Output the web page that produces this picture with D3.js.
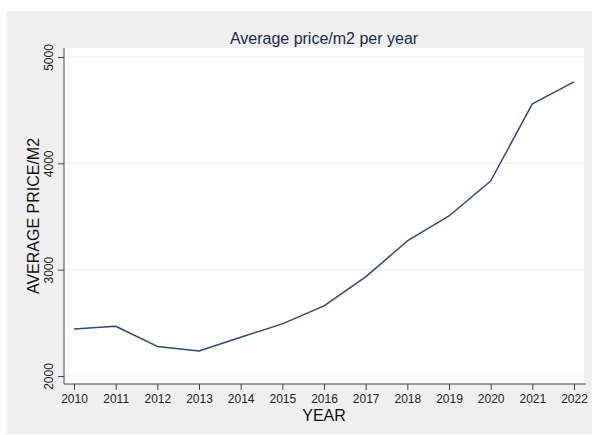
<!DOCTYPE html>
<html>
<head>
<meta charset="utf-8">
<script src="https://cdn.jsdelivr.net/npm/d3@7"></script>
<style>
  html, body { margin: 0; padding: 0; background: #ffffff; }
  svg { display: block; font-family: "Liberation Sans", Arial, Helvetica, sans-serif; }
</style>
</head>
<body>
<svg id="chart" width="592" height="435"></svg>
<script>
// Average price per square metre, by year
const years = [2010, 2011, 2012, 2013, 2014, 2015, 2016, 2017, 2018, 2019, 2020, 2021, 2022];
const avgPrice = [2442, 2468, 2278, 2235, 2365, 2490, 2660, 2932, 3270, 3505, 3834, 4559, 4766];
const yTicks = [2000, 3000, 4000, 5000];
const xTicks = years;

const svg = d3.select("#chart");
const W = 592, H = 435;

// Outer graph region
svg.append("rect").attr("x", 7).attr("y", 11).attr("width", W - 7).attr("height", 423)
  .attr("fill", "#efefef");

const plot = { left: 64, right: 584, top: 48, bottom: 384 };

// Plot region
svg.append("rect")
  .attr("x", plot.left).attr("y", plot.top)
  .attr("width", plot.right - plot.left).attr("height", plot.bottom - plot.top)
  .attr("fill", "#ffffff");

const x = d3.scaleLinear().domain([2010, 2022]).range([74, 574]);
const y = d3.scaleLinear().domain([2000, 5000]).range([376, 57]);

// Grid lines
svg.append("g").selectAll("line").data(yTicks).join("line")
  .attr("x1", plot.left).attr("x2", plot.right)
  .attr("y1", d => y(d)).attr("y2", d => y(d))
  .attr("stroke", "#f0f0f0").attr("stroke-width", 1.2);

// Y axis
const yAxis = d3.axisLeft(y).tickValues(yTicks).tickSize(6).tickSizeOuter(0).tickFormat(d3.format("d"));
const gy = svg.append("g").attr("transform", `translate(${plot.left},0)`).call(yAxis);
gy.select(".domain").attr("d", `M0,${plot.top}V${plot.bottom}`).attr("stroke", "#444").attr("stroke-width", 1);
gy.selectAll(".tick line").attr("stroke", "#444");
gy.selectAll(".tick text")
  .attr("font-size", 12).attr("fill", "#222")
  .attr("text-anchor", "middle")
  .attr("x", 0).attr("y", 0).attr("dy", 0)
  .attr("transform", "translate(-11,0) rotate(-90)");

// X axis
const xAxis = d3.axisBottom(x).tickValues(xTicks).tickSize(6).tickSizeOuter(0).tickFormat(d3.format("d"));
const gx = svg.append("g").attr("transform", `translate(0,${plot.bottom})`).call(xAxis);
gx.select(".domain").attr("d", `M${plot.left},0H${plot.right + 2}`).attr("stroke", "#444").attr("stroke-width", 1);
gx.selectAll(".tick line").attr("stroke", "#444");
gx.selectAll(".tick text").attr("font-size", 12).attr("fill", "#222").attr("y", 10).attr("dy", "0.71em");

// Data line
const line = d3.line().x((d, i) => x(years[i])).y(d => y(d));
svg.append("path")
  .datum(avgPrice)
  .attr("d", line)
  .attr("fill", "none")
  .attr("stroke", "#2b4a6e")
  .attr("stroke-width", 1.5)
  .attr("stroke-linejoin", "round");

// Title and axis titles
svg.append("text")
  .attr("x", (plot.left + plot.right) / 2).attr("y", 44)
  .attr("text-anchor", "middle").attr("font-size", 16).attr("fill", "#1c2a4a")
  .text("Average price/m2 per year");

svg.append("text")
  .attr("x", (plot.left + plot.right) / 2).attr("y", 421)
  .attr("text-anchor", "middle").attr("font-size", 16).attr("fill", "#111")
  .text("YEAR");

svg.append("text")
  .attr("transform", `translate(39,${(plot.top + plot.bottom) / 2}) rotate(-90)`)
  .attr("text-anchor", "middle").attr("font-size", 16).attr("fill", "#111")
  .text("AVERAGE PRICE/M2");
</script>
</body>
</html>
